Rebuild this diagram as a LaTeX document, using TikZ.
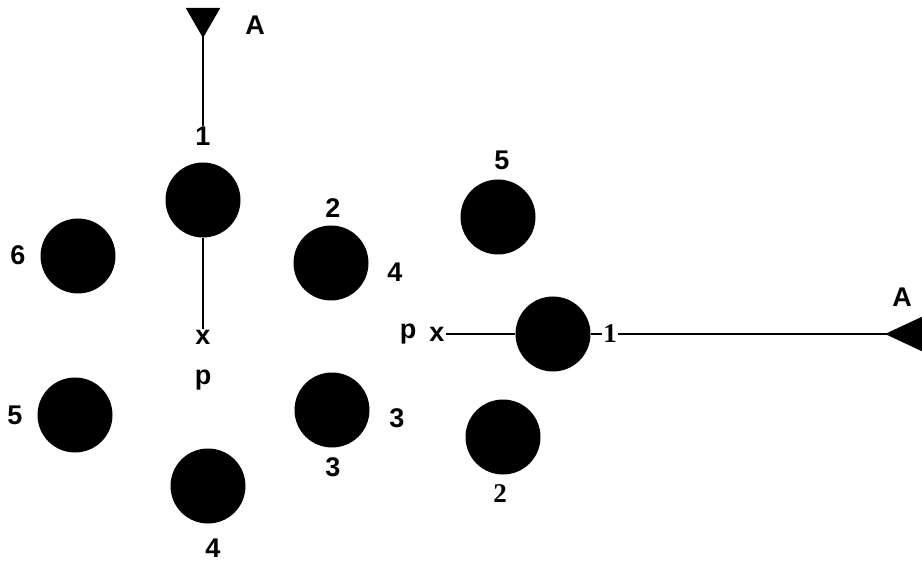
\documentclass[tikz,border=0pt]{standalone}
\usepackage{fontspec}
\setmainfont{Liberation Sans}
\newfontfamily\serifnum{Liberation Serif}
\usetikzlibrary{arrows.meta}
\begin{document}
\begin{tikzpicture}[x=1pt,y=-1pt,
  atom/.style={circle,fill=black,inner sep=0pt,minimum size=75pt},
  lbl/.style={inner sep=1pt,font=\fontsize{27}{27}\selectfont\bfseries},
  slbl/.style={inner sep=1pt,font=\fontsize{27}{27}\selectfont\serifnum\bfseries},
  bond/.style={line width=2pt},
  probe/.style={line width=2pt,-{Triangle[reversed,width=34pt,length=#1]}}]
  \useasboundingbox (0,0) rectangle (922,564);

  % left group, looking down from A
  \node [atom] (a1) at (203,200) {};
  \node [atom] (a2) at (331,263) {};
  \node [atom] (a3) at (332,410) {};
  \node [atom] (a4) at (208,486) {};
  \node [atom] (a5) at (75,415) {};
  \node [atom] (a6) at (78,256) {};
  \node [lbl] (l1) at (203,136) {1};
  \node [lbl] at (333,208) {2};
  \node [lbl] at (395,272) {4};
  \node [lbl] at (397,418) {3};
  \node [lbl] at (333,467) {3};
  \node [lbl] at (213,548) {4};
  \node [lbl] at (15,415) {5};
  \node [lbl] at (18,255) {6};
  \node [lbl] (xL) at (203,337) {x};
  \node [lbl] at (203,380) {p};
  \node [lbl] at (255,25) {A};
  \coordinate (tA) at (203,8);
  \draw [probe=30pt] (l1.north) -- (tA);
  \draw [bond] (a1) -- (xL.north);

  % right group, looking in from A
  \node [atom] (b5) at (498,217) {};
  \node [atom] (b1) at (553,334) {};
  \node [atom] (b2) at (503,437) {};
  \node [lbl] at (502,160) {5};
  \node [slbl] (r1) at (610,334) {1};
  \node [slbl] at (500,494) {2};
  \node [lbl] at (408,334) {p};
  \node [lbl] (xR) at (437,334) {x};
  \node [lbl] at (902,297) {A};
  \coordinate (tB) at (922,334);
  \draw [bond] (xR.east) -- (b1);
  \draw [bond] (b1) -- (r1.west);
  \draw [probe=37pt] (r1.east) -- (tB);
\end{tikzpicture}
\end{document}
